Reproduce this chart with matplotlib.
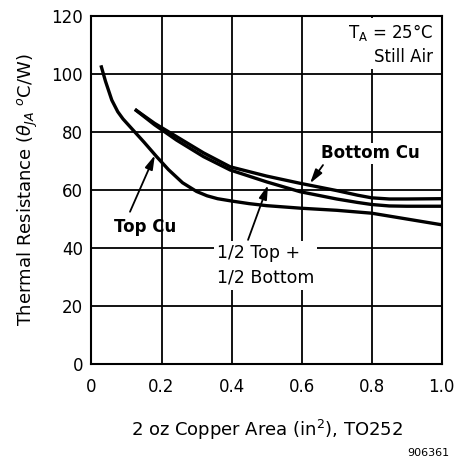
import matplotlib.pyplot as plt
import numpy as np

# curves
top_x = [0.027, 0.04, 0.058, 0.075, 0.09, 0.12, 0.15, 0.186, 0.22, 0.26, 0.3, 0.33, 0.36, 0.4,
         0.45, 0.5, 0.6, 0.7, 0.8, 0.9, 1.0]
top_y = [103.0, 97.5, 91.0, 87.0, 84.5, 80.5, 76.5, 71.5, 67.0, 62.5, 59.5, 58.0, 57.0, 56.2,
         55.3, 54.6, 53.7, 53.0, 52.0, 50.0, 48.0]

bot_x = [0.124, 0.18, 0.243, 0.32, 0.396, 0.5, 0.596, 0.7, 0.76, 0.8, 0.85, 0.9, 1.0]
bot_y = [87.8, 83.0, 78.4, 72.8, 68.0, 64.8, 62.3, 59.8, 58.2, 57.3, 56.9, 56.9, 57.0]

half_x = [0.124, 0.18, 0.243, 0.32, 0.396, 0.5, 0.596, 0.7, 0.76, 0.8, 0.85, 0.9, 1.0]
half_y = [87.8, 82.5, 77.2, 71.5, 66.9, 62.8, 59.4, 56.9, 55.7, 55.0, 54.5, 54.4, 54.4]

xticks = [0, 0.2, 0.4, 0.6, 0.8, 1.0]
xlabels = ['0', '0.2', '0.4', '0.6', '0.8', '1.0']
yticks = [0, 20, 40, 60, 80, 100, 120]

fig = plt.figure(figsize=(4.54, 4.67), dpi=100)
ax = fig.add_axes([0.2015, 0.2206, 0.7715, 0.7451])

for xs, ys in [(top_x, top_y), (bot_x, bot_y), (half_x, half_y)]:
    ax.plot(xs, ys, color='black', lw=2.4, solid_capstyle='butt', zorder=3)

ax.set_xlim(0, 1.0)
ax.set_ylim(0, 120)
ax.set_xticks(xticks)
ax.set_xticklabels(xlabels)
ax.set_yticks(yticks)
ax.grid(True, color='black', lw=1.3)
ax.set_axisbelow(True)
for s in ax.spines.values():
    s.set_linewidth(1.5)
ax.tick_params(length=0, labelsize=12)
ax.tick_params(axis='x', pad=10)
ax.tick_params(axis='y', pad=6)

ax.set_xlabel('2 oz Copper Area (in$^2$), TO252', fontsize=13, labelpad=16)
ax.set_ylabel(r'Thermal Resistance ($\theta_{JA}$ $^o$C/W)', fontsize=13, labelpad=8)

arrow = dict(arrowstyle='-|>,head_width=0.2,head_length=0.7', color='black', lw=1.3,
             mutation_scale=12, shrinkA=0, shrinkB=0)
ax.text(0.153, 47.3, 'Top Cu', fontsize=12, fontweight='bold', ha='center', va='center', zorder=4)
ax.annotate('', xy=(0.181, 72), xytext=(0.11, 52.5), arrowprops=arrow)
ax.text(0.796, 72.7, 'Bottom Cu', fontsize=12, fontweight='bold', ha='center', va='center',
        bbox=dict(facecolor='white', edgecolor='none', pad=1), zorder=4)
ax.annotate('', xy=(0.624, 62.3), xytext=(0.661, 68.6), arrowprops=arrow)
ax.text(0.358, 34, '1/2 Top +\n1/2 Bottom', fontsize=12.5, ha='left', va='center', linespacing=1.5,
        bbox=dict(facecolor='white', edgecolor='none', pad=2), zorder=4)
ax.annotate('', xy=(0.504, 61.7), xytext=(0.447, 42.8), arrowprops=arrow)
ax.text(0.975, 118, '$\\mathregular{T_A}$ = 25°C\nStill Air', fontsize=12, ha='right', va='top',
        linespacing=1.4, bbox=dict(facecolor='white', edgecolor='none', pad=2), zorder=4)

fig.text(0.99, 0.02, '906361', fontsize=8, ha='right', va='bottom')

plt.savefig('out.png', dpi=100)
